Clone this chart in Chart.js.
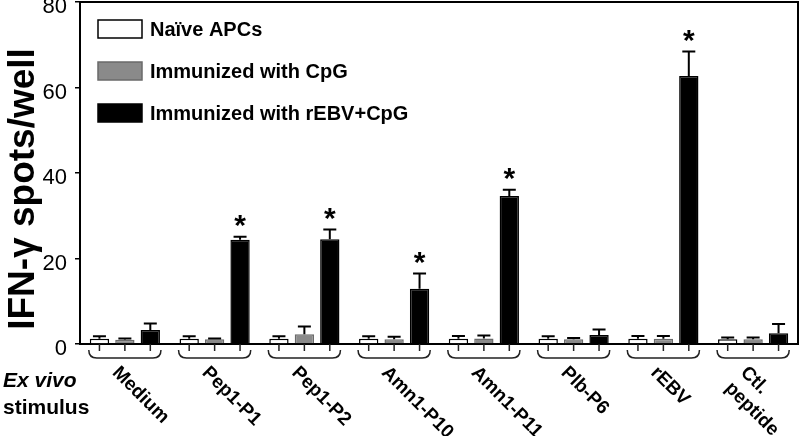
<!DOCTYPE html>
<html>
<head>
<meta charset="utf-8">
<script src="https://cdn.jsdelivr.net/npm/chart.js@4.4.1/dist/chart.umd.min.js"></script>
<style>
  html, body { margin: 0; padding: 0; background: #fff; }
  #wrap { width: 800px; height: 436px; }
</style>
</head>
<body>
<div id="wrap"><canvas id="chart" width="800" height="436"></canvas></div>
<script>
// data
const categories = ['Medium', 'Pep1-P1', 'Pep1-P2', 'Amn1-P10', 'Amn1-P11', 'Plb-P6', 'rEBV', 'Ctl.\npeptide'];
const seriesNames = ['Naïve APCs', 'Immunized with CpG', 'Immunized with rEBV+CpG'];
const naive = [1.2, 1.2, 1.2, 1.2, 1.2, 1.2, 1.2, 1.1];
const naiveErr = [0.6, 0.6, 0.6, 0.6, 0.7, 0.6, 0.7, 0.4];
const cpg = [1.0, 1.1, 2.3, 1.1, 1.3, 1.1, 1.2, 1.1];
const cpgErr = [0.3, 0.2, 1.8, 0.6, 0.7, 0.3, 0.7, 0.4];
const rebv = [3.3, 24.4, 24.5, 12.9, 34.6, 2.1, 62.7, 2.5];
const rebvErr = [1.5, 0.7, 2.3, 3.6, 1.5, 1.3, 5.7, 2.2];
const significant = [false, true, true, true, true, false, true, false];
const yTicks = [0, 20, 40, 60, 80];

const FONT = "'Liberation Sans', Arial, sans-serif";
const errors = [naiveErr, cpgErr, rebvErr];

// error bars + asterisks
const errorBars = {
  id: 'errorBars',
  afterDatasetsDraw(chart) {
    const ctx = chart.ctx;
    const y = chart.scales.y;
    ctx.save();
    ctx.strokeStyle = '#000';
    ctx.lineWidth = 2;
    chart.data.datasets.forEach((ds, i) => {
      const meta = chart.getDatasetMeta(i);
      meta.data.forEach((bar, j) => {
        const top = y.getPixelForValue(ds.data[j] + errors[i][j]);
        ctx.beginPath();
        ctx.moveTo(bar.x, bar.y);
        ctx.lineTo(bar.x, top);
        ctx.moveTo(bar.x - 6.5, top);
        ctx.lineTo(bar.x + 6.5, top);
        ctx.stroke();
        if (i === 2 && significant[j]) {
          ctx.fillStyle = '#000';
          ctx.font = 'bold 30px ' + FONT;
          ctx.textAlign = 'center';
          ctx.textBaseline = 'middle';
          ctx.fillText('*', bar.x, top - 10);
        }
      });
    });
    ctx.restore();
  }
};

// frame, braces, rotated labels, legend, titles
const decorations = {
  id: 'decorations',
  afterDraw(chart) {
    const ctx = chart.ctx;
    const area = chart.chartArea;
    const m0 = chart.getDatasetMeta(0);
    const m2 = chart.getDatasetMeta(2);
    ctx.save();

    // top and right frame lines
    ctx.strokeStyle = '#000';
    ctx.lineWidth = 2;
    ctx.beginPath();
    ctx.moveTo(area.left, area.top);
    ctx.lineTo(area.right, area.top);
    ctx.lineTo(area.right, area.bottom);
    ctx.stroke();

    // brackets under each group
    ctx.lineWidth = 1.5;
    ctx.strokeStyle = '#222';
    const b = area.bottom;
    categories.forEach((c, j) => {
      const l = m0.data[j].x - m0.data[j].width / 2 - 1;
      const r = m2.data[j].x + m2.data[j].width / 2 + 1;
      ctx.beginPath();
      ctx.moveTo(l, b + 6);
      ctx.quadraticCurveTo(l, b + 14, l + 8, b + 14);
      ctx.lineTo(r - 8, b + 14);
      ctx.quadraticCurveTo(r, b + 14, r, b + 6);
      ctx.stroke();
      [0, 1, 2].forEach(i => {
        const x = chart.getDatasetMeta(i).data[j].x;
        ctx.beginPath();
        ctx.moveTo(x, b);
        ctx.lineTo(x, b + 7);
        ctx.stroke();
      });

      // rotated category label
      const cx = chart.scales.x.getPixelForValue(j);
      ctx.save();
      ctx.translate(cx - 3, b + 19);
      ctx.rotate(Math.PI / 4);
      ctx.fillStyle = '#000';
      ctx.font = 'bold 19px ' + FONT;
      ctx.textAlign = 'left';
      ctx.textBaseline = 'top';
      c.split('\n').forEach((line, k) => ctx.fillText(line, 0, k * 22));
      ctx.restore();
    });

    // Ex vivo stimulus
    ctx.fillStyle = '#000';
    ctx.textAlign = 'left';
    ctx.textBaseline = 'alphabetic';
    ctx.font = 'italic bold 21px ' + FONT;
    ctx.fillText('Ex vivo', 3, 387);
    ctx.font = 'bold 21px ' + FONT;
    ctx.fillText('stimulus', 3, 414);

    // y axis title
    ctx.save();
    ctx.translate(24, 189);
    ctx.rotate(-Math.PI / 2);
    ctx.font = 'bold 37px ' + FONT;
    ctx.textAlign = 'center';
    ctx.textBaseline = 'middle';
    ctx.fillText('IFN-γ spots/well', 0, 0);
    ctx.restore();

    // legend
    chart.data.datasets.forEach((ds, i) => {
      const top = 20 + i * 42;
      ctx.fillStyle = ds.backgroundColor;
      ctx.fillRect(98, top, 44, 18);
      ctx.strokeStyle = ds.borderColor;
      ctx.lineWidth = 1.5;
      ctx.strokeRect(98, top, 44, 18);
      ctx.fillStyle = '#000';
      ctx.font = 'bold 20px ' + FONT;
      ctx.textBaseline = 'middle';
      ctx.fillText(ds.label, 150, top + 10);
    });

    ctx.restore();
  }
};

new Chart(document.getElementById('chart'), {
  type: 'bar',
  data: {
    labels: categories,
    datasets: [
      { label: seriesNames[0], data: naive, backgroundColor: '#ffffff', borderColor: '#000000', borderWidth: 1.5 },
      { label: seriesNames[1], data: cpg, backgroundColor: '#8a8a8a', borderColor: '#6a6a6a', borderWidth: 1.5 },
      { label: seriesNames[2], data: rebv, backgroundColor: '#000000', borderColor: '#000000', borderWidth: 1.5 }
    ]
  },
  options: {
    responsive: false,
    animation: false,
    devicePixelRatio: 1,
    categoryPercentage: 0.85,
    barPercentage: 0.76,
    layout: { padding: { top: 2, right: 2, bottom: 0, left: 0 } },
    plugins: {
      legend: { display: false },
      tooltip: { enabled: false }
    },
    scales: {
      x: {
        grid: { display: false },
        border: { display: true, color: '#000', width: 2 },
        ticks: { display: false },
        afterFit: scale => { scale.height = 92; scale.paddingLeft = 0; scale.paddingRight = 0; }
      },
      y: {
        min: 0,
        max: 80,
        afterFit: scale => { scale.width = 80; scale.paddingTop = 0; scale.paddingBottom = 0; },
        afterBuildTicks: scale => { scale.ticks = yTicks.map(v => ({ value: v })); },
        grid: { drawOnChartArea: false, tickLength: 5, color: '#000', lineWidth: 1.5 },
        border: { display: true, color: '#000', width: 2 },
        ticks: { color: '#000', padding: 8, labelOffset: 5, font: { family: FONT, size: 22 } }
      }
    }
  },
  plugins: [errorBars, decorations]
});
</script>
</body>
</html>
